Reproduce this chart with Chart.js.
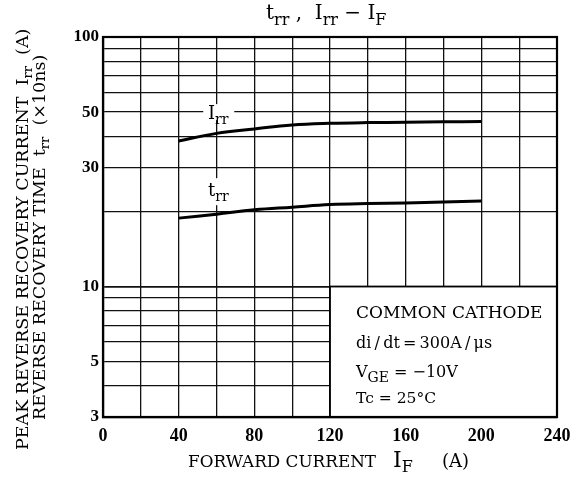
<!DOCTYPE html>
<html>
<head>
<meta charset="utf-8">
<script src="https://cdn.jsdelivr.net/npm/chart.js@4/dist/chart.umd.min.js"></script>
<style>
  body { margin: 0; background: #fff; }
  canvas { display: block; }
</style>
</head>
<body>
<canvas id="chart" width="580" height="485"></canvas>
<script>
// forward current IF (A)
const currentIF = [40, 60, 80, 100, 120, 140, 160, 180, 200];
// peak reverse recovery current Irr (A)
const irrValues = [38.3, 41.1, 42.8, 44.4, 45.1, 45.4, 45.5, 45.7, 45.8];
// reverse recovery time trr (x10ns)
const trrValues = [18.8, 19.5, 20.3, 20.8, 21.3, 21.5, 21.6, 21.8, 22.0];

const yGridValues = [3, 4, 5, 6, 7, 8, 9, 10, 20, 30, 40, 50, 60, 70, 80, 90, 100];
const yLabelValues = [3, 5, 10, 30, 50, 100];
const xLabelValues = [0, 40, 80, 120, 160, 200, 240];

const FONT = '"DejaVu Serif", serif';
const THIN = '\u2009';

// draws text pieces one after another (subscripts get a dy)
function drawRich(ctx, parts, x, y) {
    let cx = x;
    parts.forEach(p => {
        if (p.x !== undefined) cx = x + p.x;
        ctx.font = (p.size || 16) + 'px ' + FONT;
        ctx.fillText(p.t, cx, y + (p.dy || 0));
        cx += ctx.measureText(p.t).width;
    });
    return cx;
}

const decorations = {
    id: 'decorations',
    beforeDatasetsDraw(chart) {
        const ctx = chart.ctx;
        const xs = chart.scales.x, ys = chart.scales.y;
        const a = chart.chartArea;

        // conditions box
        const bx1 = xs.getPixelForValue(120), bx2 = xs.getPixelForValue(240);
        const by1 = ys.getPixelForValue(10), by2 = ys.getPixelForValue(3);
        ctx.save();
        ctx.fillStyle = '#fff';
        ctx.fillRect(bx1, by1, bx2 - bx1, by2 - by1);
        ctx.strokeStyle = '#000';
        ctx.lineWidth = 1.8;
        ctx.strokeRect(bx1, by1, bx2 - bx1, by2 - by1);

        // plot frame
        ctx.lineWidth = 2.2;
        ctx.strokeRect(a.left, a.top, a.right - a.left, a.bottom - a.top);

        // curve label backgrounds
        ctx.fillStyle = '#fff';
        const lx = xs.getPixelForValue(53);
        ctx.fillRect(lx, ys.getPixelForValue(50) - 8, 31, 16);
        ctx.fillRect(lx, ys.getPixelForValue(22.6) - 20, 31, 27);
        ctx.restore();
    },
    afterDatasetsDraw(chart) {
        const ctx = chart.ctx;
        const xs = chart.scales.x, ys = chart.scales.y;
        ctx.save();
        ctx.fillStyle = '#000';
        ctx.textBaseline = 'alphabetic';
        const lx = xs.getPixelForValue(55.5);
        const iy = ys.getPixelForValue(50) + 7;
        drawRich(ctx, [{t: 'I', size: 18}, {t: 'rr', size: 14, dy: 5}], lx, iy);
        const ty = ys.getPixelForValue(22.6) - 2;
        drawRich(ctx, [{t: 't', size: 18}, {t: 'rr', size: 14, dy: 5}], lx, ty);

        // box text
        const bx = xs.getPixelForValue(120) + 26;
        drawRich(ctx, [{t: 'COMMON CATHODE', size: 17}], bx, 318);
        drawRich(ctx, [{t: ['di', '/', 'dt', '=', '300A', '/', 'μs'].join(THIN), size: 16}], bx, 348);
        drawRich(ctx, [{t: 'V', size: 16}, {t: 'GE', size: 14, dy: 5}, {t: ' = −10V', size: 16}], bx, 377);
        drawRich(ctx, [{t: 'Tc = 25°C', size: 15.5}], bx, 403);

        // title
        drawRich(ctx, [
            {t: 't', size: 20}, {t: 'rr', size: 16, dy: 6},
            {t: ' ,  I', size: 20}, {t: 'rr', size: 16, dy: 6},
            {t: ' − I', size: 20}, {t: 'F', size: 16, dy: 6}
        ], 266, 19);

        // x axis title
        drawRich(ctx, [
            {t: 'FORWARD CURRENT', size: 16.8},
            {t: 'I', size: 22, x: 205}, {t: 'F', size: 16, dy: 5},
            {t: '(A)', size: 18, x: 254}
        ], 188, 467);

        // y axis title
        ctx.translate(28, 450);
        ctx.rotate(-Math.PI / 2);
        drawRich(ctx, [
            {t: 'PEAK REVERSE RECOVERY CURRENT  I', size: 17.5},
            {t: 'rr', size: 13, dy: 4},
            {t: '  (A)', size: 17.5}
        ], 0, 0);
        drawRich(ctx, [
            {t: 'REVERSE RECOVERY TIME  t', size: 17.5},
            {t: 'rr', size: 13, dy: 4},
            {t: '  (×10ns)', size: 17.5}
        ], 30, 17);
        ctx.restore();
    }
};

new Chart(document.getElementById('chart'), {
    type: 'scatter',
    data: {
        datasets: [{
            label: 'Irr',
            data: currentIF.map((x, i) => ({x: x, y: irrValues[i]})),
            showLine: true,
            borderColor: '#000',
            borderWidth: 3,
            pointRadius: 0,
            tension: 0.4
        }, {
            label: 'trr',
            data: currentIF.map((x, i) => ({x: x, y: trrValues[i]})),
            showLine: true,
            borderColor: '#000',
            borderWidth: 3,
            pointRadius: 0,
            tension: 0.4
        }]
    },
    options: {
        responsive: false,
        animation: false,
        layout: { padding: { top: 37, right: 23, left: 0, bottom: 0 } },
        plugins: {
            legend: { display: false },
            tooltip: { enabled: false }
        },
        scales: {
            x: {
                type: 'linear',
                min: 0,
                max: 240,
                afterFit: s => { s.height = 68; },
                grid: { color: '#111', lineWidth: 1.3, drawTicks: false },
                border: { color: '#000', width: 2.2 },
                ticks: {
                    stepSize: 20,
                    autoSkip: false,
                    maxRotation: 0,
                    padding: 9,
                    color: '#000',
                    font: { family: 'Liberation Serif', size: 18, weight: 'bold' },
                    callback: v => xLabelValues.includes(v) ? String(v) : ''
                }
            },
            y: {
                type: 'logarithmic',
                min: 3,
                max: 100,
                afterFit: s => { s.width = 103; },
                afterBuildTicks: s => { s.ticks = yGridValues.map(v => ({value: v})); },
                grid: {
                    color: '#111',
                    lineWidth: c => c.tick && c.tick.value === 10 ? 1.8 : 1.3,
                    drawTicks: false
                },
                border: { color: '#000', width: 2.2 },
                ticks: {
                    autoSkip: false,
                    padding: 4,
                    color: '#000',
                    font: { family: 'Liberation Serif', size: 17, weight: 'bold' },
                    callback: v => yLabelValues.includes(v) ? String(v) : ''
                }
            }
        }
    },
    plugins: [decorations]
});
</script>
</body>
</html>
